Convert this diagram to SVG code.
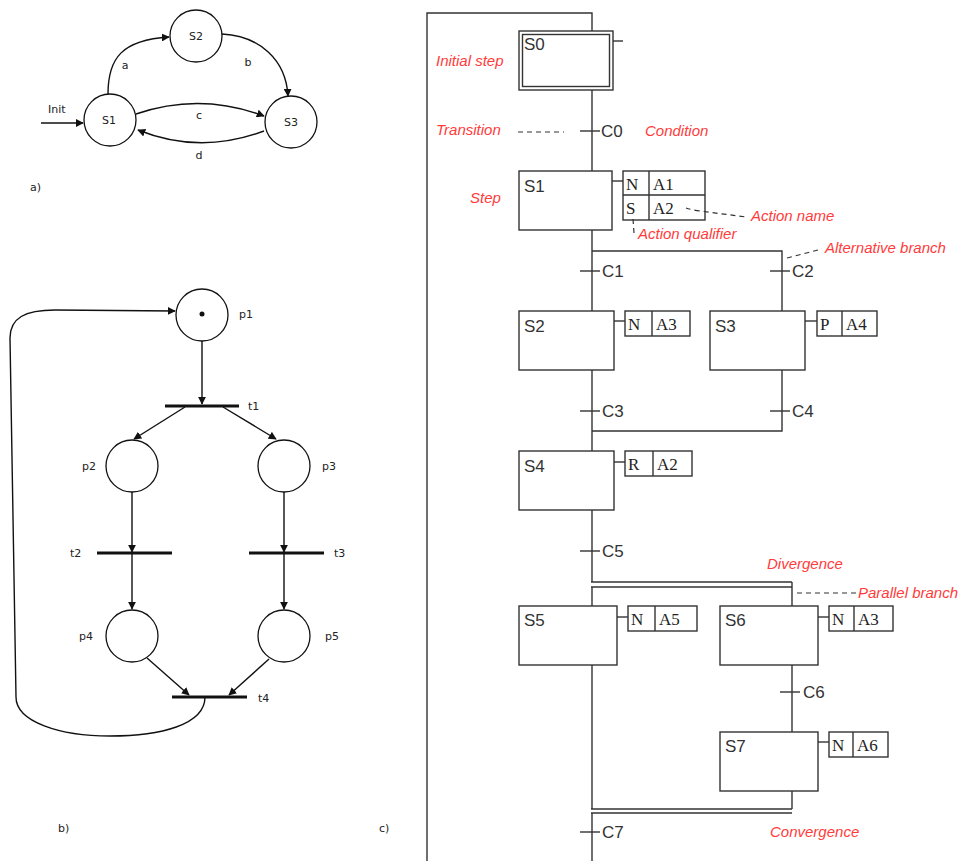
<svg xmlns="http://www.w3.org/2000/svg" width="970" height="861" viewBox="0 0 970 861">
<style>
.bg{fill:#fff}
.st{fill:none;stroke:#111;stroke-width:1.4}
.cir{fill:#fff;stroke:#111;stroke-width:1.3}
.bar{stroke:#111;stroke-width:3}
.tv{font-family:"DejaVu Sans",Verdana,sans-serif;font-size:11px;fill:#222}
.g{fill:none;stroke:#333;stroke-width:1.4}
.box{fill:#fff;stroke:#333;stroke-width:1.4}
.sn{font-family:"Liberation Sans",Arial,sans-serif;font-size:17px;fill:#333}
.an{font-family:"Liberation Serif","Times New Roman",serif;font-size:17px;fill:#222}
.red{font-family:"Liberation Sans",Arial,sans-serif;font-size:15px;font-style:italic;fill:#ff3b3b}
.dash{fill:none;stroke:#333;stroke-width:1.2;stroke-dasharray:5 4}
</style>
<defs>
<marker id="ah" viewBox="0 0 10 10" refX="9" refY="5" markerWidth="8" markerHeight="8" markerUnits="userSpaceOnUse" orient="auto">
<path d="M0,0 L10,5 L0,10 z" fill="#111"/>
</marker>
</defs>
<rect class="bg" x="0" y="0" width="970" height="861"/>

<!-- Panel a -->
<g id="panel-a">
<g id="a-connectors">
<line class="st" x1="41" y1="123" x2="83" y2="123" marker-end="url(#ah)"/>
<path class="st" d="M108,94 C108,58 122,40 169,37" marker-end="url(#ah)"/>
<path class="st" d="M222,34 C260,36 286,60 288,96" marker-end="url(#ah)"/>
<path class="st" d="M136,114 Q200,92 264,116" marker-end="url(#ah)"/>
<path class="st" d="M264,131 Q200,155 138,130" marker-end="url(#ah)"/>
</g>
<g id="a-S2"><circle class="cir" cx="196" cy="36" r="26"/><text class="tv" x="196" y="40" text-anchor="middle">S2</text></g>
<g id="a-S1"><circle class="cir" cx="110" cy="120" r="26"/><text class="tv" x="109" y="124" text-anchor="middle">S1</text></g>
<g id="a-S3"><circle class="cir" cx="291" cy="122" r="26"/><text class="tv" x="291" y="126" text-anchor="middle">S3</text></g>
<text class="tv" x="48" y="113">Init</text>
<text class="tv" x="125" y="69" text-anchor="middle">a</text>
<text class="tv" x="248" y="66" text-anchor="middle">b</text>
<text class="tv" x="199" y="119" text-anchor="middle">c</text>
<text class="tv" x="199" y="159" text-anchor="middle">d</text>
<text class="tv" x="30" y="191">a)</text>
</g>

<!-- Panel b -->
<g id="panel-b">
<g id="b-connectors">
<line class="st" x1="202" y1="341" x2="202" y2="404" marker-end="url(#ah)"/>
<line class="st" x1="185" y1="407" x2="134" y2="439" marker-end="url(#ah)"/>
<line class="st" x1="223" y1="407" x2="276" y2="439" marker-end="url(#ah)"/>
<line class="st" x1="132" y1="492" x2="132" y2="552" marker-end="url(#ah)"/>
<line class="st" x1="132" y1="553" x2="132" y2="609" marker-end="url(#ah)"/>
<line class="st" x1="284" y1="492" x2="284" y2="552" marker-end="url(#ah)"/>
<line class="st" x1="284" y1="553" x2="284" y2="609" marker-end="url(#ah)"/>
<line class="st" x1="147" y1="658" x2="189" y2="695" marker-end="url(#ah)"/>
<line class="st" x1="269" y1="659" x2="229" y2="695" marker-end="url(#ah)"/>
<path class="st" d="M205,697 C205,725 160,736 110,736 C60,736 16,722 16,697 L10,338 C10,318 25,310 55,310 L175,311" marker-end="url(#ah)"/>
</g>
<g id="b-p1"><circle class="cir" cx="202" cy="315" r="26"/><circle cx="202" cy="314" r="2.5" fill="#111"/><text class="tv" x="239" y="318">p1</text></g>
<g id="b-t1"><line class="bar" x1="165" y1="406" x2="239" y2="406"/><text class="tv" x="248" y="410">t1</text></g>
<g id="b-p2"><circle class="cir" cx="132" cy="466" r="26"/><text class="tv" x="82" y="470">p2</text></g>
<g id="b-p3"><circle class="cir" cx="284" cy="466" r="26"/><text class="tv" x="322" y="470">p3</text></g>
<g id="b-t2"><line class="bar" x1="97" y1="553" x2="172" y2="553"/><text class="tv" x="70" y="557">t2</text></g>
<g id="b-t3"><line class="bar" x1="249" y1="553" x2="324" y2="553"/><text class="tv" x="334" y="557">t3</text></g>
<g id="b-p4"><circle class="cir" cx="132" cy="636" r="26"/><text class="tv" x="79" y="640">p4</text></g>
<g id="b-p5"><circle class="cir" cx="284" cy="636" r="26"/><text class="tv" x="325" y="640">p5</text></g>
<g id="b-t4"><line class="bar" x1="172" y1="697" x2="247" y2="697"/><text class="tv" x="258" y="702">t4</text></g>
<text class="tv" x="58" y="832">b)</text>
</g>

<!-- Panel c -->
<g id="panel-c">
<g id="c-connectors">
<path class="g" d="M427,861 L427,13 L592,13 L592,31"/>
<line class="g" x1="613" y1="41" x2="623" y2="41"/>
<line class="g" x1="592" y1="90" x2="592" y2="171"/>
<line class="g" x1="580" y1="131" x2="600" y2="131"/>
<line class="g" x1="612" y1="181" x2="623" y2="181"/>
<line class="g" x1="592" y1="230" x2="592" y2="311"/>
<path class="g" d="M592,251 L782,251 L782,311"/>
<line class="g" x1="580" y1="271" x2="600" y2="271"/>
<line class="g" x1="770" y1="271" x2="790" y2="271"/>
<line class="g" x1="614" y1="321" x2="625" y2="321"/>
<line class="g" x1="805" y1="321" x2="817" y2="321"/>
<line class="g" x1="592" y1="370" x2="592" y2="451"/>
<path class="g" d="M782,370 L782,431 L592,431"/>
<line class="g" x1="580" y1="411" x2="600" y2="411"/>
<line class="g" x1="770" y1="411" x2="790" y2="411"/>
<line class="g" x1="614" y1="462" x2="625" y2="462"/>
<line class="g" x1="592" y1="510" x2="592" y2="582"/>
<line class="g" x1="580" y1="551" x2="600" y2="551"/>
<line class="g" x1="591" y1="582" x2="792" y2="582"/>
<line class="g" x1="591" y1="587" x2="792" y2="587"/>
<line class="g" x1="792" y1="582" x2="792" y2="606"/>
<line class="g" x1="592" y1="587" x2="592" y2="606"/>
<line class="g" x1="617" y1="617" x2="628" y2="617"/>
<line class="g" x1="818" y1="617" x2="829" y2="617"/>
<line class="g" x1="792" y1="665" x2="792" y2="732"/>
<line class="g" x1="780" y1="692" x2="800" y2="692"/>
<line class="g" x1="818" y1="742" x2="829" y2="742"/>
<line class="g" x1="592" y1="665" x2="592" y2="809"/>
<line class="g" x1="792" y1="791" x2="792" y2="809"/>
<line class="g" x1="591" y1="809" x2="792" y2="809"/>
<line class="g" x1="591" y1="813" x2="792" y2="813"/>
<line class="g" x1="592" y1="813" x2="592" y2="861"/>
<line class="g" x1="580" y1="832" x2="600" y2="832"/>
</g>

<g id="c-S0">
<rect class="box" x="519" y="31" width="94" height="59" stroke="#555"/>
<rect class="box" x="522.5" y="34.5" width="87" height="52" stroke="#555"/>
<text class="sn" x="524" y="50">S0</text>
</g>
<g id="c-S1"><rect class="box" x="519" y="171" width="93" height="59"/><text class="sn" x="524" y="192">S1</text></g>
<g id="c-S1-act">
<rect class="box" x="623" y="171" width="82" height="49"/>
<line class="g" x1="649" y1="171" x2="649" y2="220"/>
<line class="g" x1="623" y1="195" x2="705" y2="195"/>
<text class="an" x="626" y="190">N</text><text class="an" x="653" y="190">A1</text>
<text class="an" x="626" y="214">S</text><text class="an" x="653" y="214">A2</text>
</g>
<g id="c-S2"><rect class="box" x="519" y="311" width="95" height="59"/><text class="sn" x="524" y="332">S2</text></g>
<g id="c-S2-act"><rect class="box" x="625" y="311" width="65" height="25"/><line class="g" x1="652" y1="311" x2="652" y2="336"/><text class="an" x="628" y="330">N</text><text class="an" x="656" y="330">A3</text></g>
<g id="c-S3"><rect class="box" x="710" y="311" width="95" height="59"/><text class="sn" x="715" y="332">S3</text></g>
<g id="c-S3-act"><rect class="box" x="817" y="311" width="60" height="25"/><line class="g" x1="842" y1="311" x2="842" y2="336"/><text class="an" x="820" y="330">P</text><text class="an" x="846" y="330">A4</text></g>
<g id="c-S4"><rect class="box" x="519" y="451" width="95" height="59"/><text class="sn" x="524" y="472">S4</text></g>
<g id="c-S4-act"><rect class="box" x="625" y="451" width="67" height="25"/><line class="g" x1="653" y1="451" x2="653" y2="476"/><text class="an" x="628" y="470">R</text><text class="an" x="657" y="470">A2</text></g>
<g id="c-S5"><rect class="box" x="519" y="606" width="98" height="59"/><text class="sn" x="524" y="626">S5</text></g>
<g id="c-S5-act"><rect class="box" x="628" y="606" width="69" height="25"/><line class="g" x1="655" y1="606" x2="655" y2="631"/><text class="an" x="631" y="625">N</text><text class="an" x="659" y="625">A5</text></g>
<g id="c-S6"><rect class="box" x="720" y="606" width="98" height="59"/><text class="sn" x="725" y="626">S6</text></g>
<g id="c-S6-act"><rect class="box" x="829" y="606" width="64" height="25"/><line class="g" x1="854" y1="606" x2="854" y2="631"/><text class="an" x="832" y="625">N</text><text class="an" x="858" y="625">A3</text></g>
<g id="c-S7"><rect class="box" x="720" y="732" width="98" height="59"/><text class="sn" x="725" y="752">S7</text></g>
<g id="c-S7-act"><rect class="box" x="829" y="732" width="59" height="25"/><line class="g" x1="853" y1="732" x2="853" y2="757"/><text class="an" x="832" y="751">N</text><text class="an" x="857" y="751">A6</text></g>

<g id="c-conditions">
<text class="sn" x="601" y="137">C0</text>
<text class="sn" x="602" y="277">C1</text>
<text class="sn" x="792" y="277">C2</text>
<text class="sn" x="602" y="417">C3</text>
<text class="sn" x="792" y="417">C4</text>
<text class="sn" x="602" y="557">C5</text>
<text class="sn" x="803" y="698">C6</text>
<text class="sn" x="602" y="838">C7</text>
</g>

<g id="c-annotations">
<text class="red" x="436" y="66">Initial step</text>
<text class="red" x="436" y="135">Transition</text>
<line class="dash" x1="518" y1="132" x2="564" y2="132" stroke-dasharray="5 4.5"/>
<text class="red" x="645" y="136">Condition</text>
<text class="red" x="470" y="203">Step</text>
<path class="dash" d="M686,208 Q692,210 700,211 L746,217"/>
<text class="red" x="751" y="221">Action name</text>
<line class="dash" x1="633" y1="219" x2="634" y2="233" stroke-dasharray="4 5"/>
<text class="red" x="638" y="239">Action qualifier</text>
<line class="dash" x1="787" y1="258" x2="822" y2="249"/>
<text class="red" x="825" y="253">Alternative branch</text>
<text class="red" x="767" y="569">Divergence</text>
<line class="dash" x1="797" y1="593" x2="857" y2="593"/>
<text class="red" x="858" y="598">Parallel branch</text>
<text class="red" x="770" y="837">Convergence</text>
</g>
<text class="tv" x="379" y="832">c)</text>
</g>
</svg>
